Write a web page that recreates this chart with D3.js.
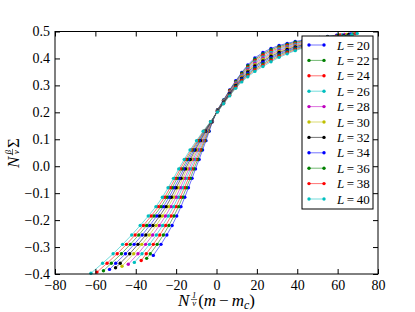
<!DOCTYPE html>
<html>
<head>
<meta charset="utf-8">
<script src="https://cdn.jsdelivr.net/npm/d3@7"></script>
<style>
  body { margin: 0; background: #fff; }
  svg { display: block; }
  text { white-space: pre; }
</style>
</head>
<body>
<div id="chart-container"></div>
<script>
const sizes = ["20", "22", "24", "26", "28", "30", "32", "34", "36", "38", "40"];
const colors = ["#0000ff", "#008000", "#ff0000", "#00bfbf", "#bf00bf", "#bfbf00",
                "#000000", "#0000ff", "#008000", "#ff0000", "#00bfbf"];
const xTicks = [-80, -60, -40, -20, 0, 20, 40, 60, 80];
const yTicks = [-0.4, -0.3, -0.2, -0.1, 0.0, 0.1, 0.2, 0.3, 0.4, 0.5];

const L20 = [[-31.3,-0.331],[-27.5,-0.290],[-24.6,-0.255],[-22.0,-0.220],[-19.7,-0.185],[-17.6,-0.150],[-15.7,-0.115],[-13.9,-0.080],[-12.1,-0.045],[-10.4,-0.010],[-8.6,0.025],[-6.9,0.060],[-5.2,0.095],[-3.6,0.130],[-2.0,0.165],
  [0.5,0.210],[3.5,0.246],[6.5,0.283],[9.5,0.317],[12.5,0.348],[15.5,0.376],[19,0.402],[23,0.422],[27,0.437],[31,0.448],[35,0.456],[39,0.463],[43,0.468],[47,0.473],[51,0.478],[55,0.482],[59.5,0.486]];
const L22 = [[-34.6,-0.342],[-32.8,-0.325],[-29.4,-0.290],[-26.3,-0.255],[-23.6,-0.220],[-21.1,-0.185],[-18.8,-0.150],[-16.8,-0.115],[-14.9,-0.080],[-13.0,-0.045],[-11.2,-0.010],[-9.3,0.025],[-7.5,0.060],[-5.7,0.095],[-3.9,0.130],[-2.1,0.165],
  [0.5,0.209],[3.5,0.245],[6.5,0.281],[9.5,0.314],[12.5,0.345],[15.5,0.372],[19,0.397],[23,0.417],[27,0.432],[31,0.444],[35,0.452],[39,0.460],[43,0.465],[47,0.471],[51,0.476],[55,0.481],[60.5,0.487]];
const L24 = [[-37.3,-0.350],[-34.8,-0.325],[-31.3,-0.290],[-28.1,-0.255],[-25.2,-0.220],[-22.5,-0.185],[-20.1,-0.150],[-17.9,-0.115],[-15.9,-0.080],[-13.9,-0.045],[-12.1,-0.010],[-10.1,0.025],[-8.1,0.060],[-6.1,0.095],[-4.2,0.130],[-2.2,0.165],
  [0.5,0.208],[3.5,0.243],[6.5,0.279],[9.5,0.311],[12.5,0.341],[15.5,0.367],[19,0.392],[23,0.412],[27,0.427],[31,0.439],[35,0.448],[39,0.456],[43,0.462],[47,0.468],[51,0.474],[55,0.479],[59,0.483],[61.5,0.487]];
const L26 = [[-40.7,-0.357],[-36.9,-0.325],[-33.2,-0.290],[-29.8,-0.255],[-26.7,-0.220],[-23.9,-0.185],[-21.3,-0.150],[-19.0,-0.115],[-16.9,-0.080],[-14.9,-0.045],[-12.9,-0.010],[-10.8,0.025],[-8.8,0.060],[-6.6,0.095],[-4.5,0.130],[-2.3,0.165],
  [0.5,0.207],[3.5,0.242],[6.5,0.276],[9.5,0.309],[12.5,0.338],[15.5,0.363],[19,0.387],[23,0.406],[27,0.422],[31,0.435],[35,0.444],[39,0.453],[43,0.459],[47,0.466],[51,0.472],[55,0.478],[59,0.482],[62.5,0.488]];
const L28 = [[-43.7,-0.364],[-38.9,-0.325],[-35.1,-0.290],[-31.6,-0.255],[-28.3,-0.220],[-25.3,-0.185],[-22.6,-0.150],[-20.1,-0.115],[-17.9,-0.080],[-15.8,-0.045],[-13.7,-0.010],[-11.6,0.025],[-9.4,0.060],[-7.1,0.095],[-4.8,0.130],[-2.4,0.165],
  [0.5,0.206],[3.5,0.240],[6.5,0.274],[9.5,0.306],[12.5,0.334],[15.5,0.358],[19,0.382],[23,0.401],[27,0.417],[31,0.430],[35,0.440],[39,0.449],[43,0.456],[47,0.463],[51,0.470],[55,0.476],[59,0.481],[63.5,0.489]];
const L30 = [[-46.8,-0.371],[-41.0,-0.325],[-37.0,-0.290],[-33.3,-0.255],[-29.9,-0.220],[-26.8,-0.185],[-23.8,-0.150],[-21.3,-0.115],[-19.0,-0.080],[-16.7,-0.045],[-14.6,-0.010],[-12.3,0.025],[-10.0,0.060],[-7.6,0.095],[-5.1,0.130],[-2.5,0.165],
  [0.5,0.206],[3.5,0.239],[6.5,0.272],[9.5,0.303],[12.5,0.331],[15.5,0.354],[19,0.377],[23,0.396],[27,0.413],[31,0.426],[35,0.437],[39,0.446],[43,0.454],[47,0.461],[51,0.468],[55,0.475],[59,0.480],[64.6,0.489]];
const L32 = [[-50.0,-0.377],[-47.7,-0.360],[-43.0,-0.325],[-38.9,-0.290],[-35.0,-0.255],[-31.5,-0.220],[-28.2,-0.185],[-25.0,-0.150],[-22.4,-0.115],[-20.0,-0.080],[-17.6,-0.045],[-15.4,-0.010],[-13.0,0.025],[-10.6,0.060],[-8.0,0.095],[-5.4,0.130],[-2.6,0.165],
  [0.5,0.205],[3.5,0.238],[6.5,0.270],[9.5,0.300],[12.5,0.327],[15.5,0.350],[19,0.372],[23,0.391],[27,0.408],[31,0.422],[35,0.433],[39,0.443],[43,0.451],[47,0.459],[51,0.466],[55,0.473],[59,0.478],[63,0.484],[65.6,0.490]];
const L34 = [[-53.0,-0.383],[-49.9,-0.360],[-45.1,-0.325],[-40.8,-0.290],[-36.8,-0.255],[-33.1,-0.220],[-29.6,-0.185],[-26.3,-0.150],[-23.5,-0.115],[-21.0,-0.080],[-18.5,-0.045],[-16.2,-0.010],[-13.8,0.025],[-11.2,0.060],[-8.5,0.095],[-5.7,0.130],[-2.7,0.165],
  [0.5,0.204],[3.5,0.236],[6.5,0.268],[9.5,0.297],[12.5,0.324],[15.5,0.345],[19,0.367],[23,0.386],[27,0.403],[31,0.417],[35,0.429],[39,0.439],[43,0.448],[47,0.456],[51,0.464],[55,0.471],[59,0.477],[63,0.483],[66.6,0.491]];
const L36 = [[-56.0,-0.388],[-52.1,-0.360],[-47.1,-0.325],[-42.7,-0.290],[-38.5,-0.255],[-34.6,-0.220],[-31.0,-0.185],[-27.5,-0.150],[-24.6,-0.115],[-22.0,-0.080],[-19.5,-0.045],[-17.0,-0.010],[-14.5,0.025],[-11.9,0.060],[-9.0,0.095],[-6.0,0.130],[-2.8,0.165],
  [0.5,0.203],[3.5,0.235],[6.5,0.265],[9.5,0.295],[12.5,0.320],[15.5,0.341],[19,0.362],[23,0.380],[27,0.398],[31,0.413],[35,0.425],[39,0.436],[43,0.445],[47,0.454],[51,0.462],[55,0.470],[59,0.476],[63,0.482],[67.6,0.491]];
const L38 = [[-59.2,-0.393],[-54.2,-0.360],[-49.2,-0.325],[-44.6,-0.290],[-40.3,-0.255],[-36.2,-0.220],[-32.4,-0.185],[-28.8,-0.150],[-25.7,-0.115],[-23.0,-0.080],[-20.4,-0.045],[-17.9,-0.010],[-15.3,0.025],[-12.5,0.060],[-9.4,0.095],[-6.3,0.130],[-2.9,0.165],
  [0.5,0.202],[3.5,0.233],[6.5,0.263],[9.5,0.292],[12.5,0.317],[15.5,0.336],[19,0.357],[23,0.375],[27,0.393],[31,0.408],[35,0.421],[39,0.432],[43,0.442],[47,0.451],[51,0.460],[55,0.468],[59,0.474],[63,0.481],[68.7,0.492]];
const L40 = [[-62.2,-0.397],[-56.4,-0.360],[-51.2,-0.325],[-46.5,-0.290],[-42.0,-0.255],[-37.8,-0.220],[-33.8,-0.185],[-30.0,-0.150],[-26.8,-0.115],[-24.0,-0.080],[-21.3,-0.045],[-18.7,-0.010],[-16.0,0.025],[-13.1,0.060],[-9.9,0.095],[-6.6,0.130],[-3.0,0.165],
  [0.5,0.201],[3.5,0.232],[6.5,0.261],[9.5,0.289],[12.5,0.313],[15.5,0.332],[19,0.352],[23,0.370],[27,0.388],[31,0.404],[35,0.417],[39,0.429],[43,0.439],[47,0.449],[51,0.458],[55,0.467],[59,0.473],[63,0.481],[67,0.488],[69.7,0.493]];

const allSeries = [L20, L22, L24, L26, L28, L30, L32, L34, L36, L38, L40];

const width = 415;
const height = 312;
const margin = { top: 31.5, right: 37, bottom: 38, left: 55 };
const serif = "Liberation Serif, DejaVu Serif, serif";

function drawChart() {
  const svg = d3.select("#chart-container")
    .append("svg")
    .attr("width", width)
    .attr("height", height)
    .attr("font-family", serif);

  const x = d3.scaleLinear().domain([-80, 80]).range([margin.left, width - margin.right]);
  const y = d3.scaleLinear().domain([-0.4, 0.5]).range([height - margin.bottom, margin.top]);

  const line = d3.line().x(d => x(d[0])).y(d => y(d[1]));

  // curves, later sizes on top
  allSeries.forEach((s, i) => {
    const g = svg.append("g");
    g.append("path")
      .attr("d", line(s))
      .attr("fill", "none")
      .attr("stroke", colors[i])
      .attr("stroke-opacity", 0.55)
      .attr("stroke-width", 1);
    g.selectAll("circle").data(s).enter()
      .append("circle")
      .attr("cx", d => x(d[0]))
      .attr("cy", d => y(d[1]))
      .attr("r", 1.7)
      .attr("fill", colors[i]);
  });

  // axes, ticks pointing inward on all sides
  const bottom = svg.append("g")
    .attr("transform", `translate(0,${height - margin.bottom})`)
    .call(d3.axisBottom(x).tickValues(xTicks).tickFormat(d3.format("d"))
      .tickSizeInner(-5).tickSizeOuter(0).tickPadding(6));
  const top = svg.append("g")
    .attr("transform", `translate(0,${margin.top})`)
    .call(d3.axisTop(x).tickValues(xTicks).tickFormat("")
      .tickSizeInner(-5).tickSizeOuter(0));
  const left = svg.append("g")
    .attr("transform", `translate(${margin.left},0)`)
    .call(d3.axisLeft(y).tickValues(yTicks).tickFormat(d3.format(".1f"))
      .tickSizeInner(-5).tickSizeOuter(0).tickPadding(5));
  const right = svg.append("g")
    .attr("transform", `translate(${width - margin.right},0)`)
    .call(d3.axisRight(y).tickValues(yTicks).tickFormat("")
      .tickSizeInner(-5).tickSizeOuter(0));

  [bottom, top, left, right].forEach(a => {
    a.attr("font-family", serif).attr("font-size", 14);
    a.select(".domain").remove();
    a.selectAll("line").attr("stroke", "#000");
    a.selectAll("text").attr("fill", "#000");
  });

  svg.append("rect")
    .attr("x", margin.left)
    .attr("y", margin.top)
    .attr("width", width - margin.left - margin.right)
    .attr("height", height - margin.top - margin.bottom)
    .attr("fill", "none")
    .attr("stroke", "#000")
    .attr("stroke-width", 1);

  // legend
  const lx = 302, ly = 36, lw = 71, lh = 173;
  const legend = svg.append("g");
  legend.append("rect")
    .attr("x", lx).attr("y", ly).attr("width", lw).attr("height", lh)
    .attr("fill", "#fff").attr("stroke", "#000").attr("stroke-width", 1);
  sizes.forEach((s, i) => {
    const cy = ly + 9 + i * 15.4;
    legend.append("line")
      .attr("x1", lx + 7).attr("x2", lx + 22).attr("y1", cy).attr("y2", cy)
      .attr("stroke", colors[i]).attr("stroke-opacity", 0.55);
    [lx + 7, lx + 22].forEach(px => {
      legend.append("circle").attr("cx", px).attr("cy", cy).attr("r", 1.7).attr("fill", colors[i]);
    });
    const t = legend.append("text")
      .attr("x", lx + 35).attr("y", cy + 4.5)
      .attr("font-size", 13);
    t.append("tspan").attr("font-style", "italic").text("L");
    t.append("tspan").text("\u2009=\u2009" + s);
  });

  // math labels built from pieces
  function mathLabel(parts, size) {
    const g = svg.append("g");
    let cx = 0;
    parts.forEach(p => {
      if (p.frac) {
        const fs = size * 0.5;
        const a = g.append("text").attr("y", -size * 0.5).attr("font-size", fs)
          .attr("font-style", "italic").attr("text-anchor", "middle").text(p.frac[0]);
        const b = g.append("text").attr("y", 0).attr("font-size", fs)
          .attr("font-style", "italic").attr("text-anchor", "middle").text(p.frac[1]);
        const w = Math.max(a.node().getComputedTextLength(), b.node().getComputedTextLength()) + 2;
        a.attr("x", cx + w / 2 + 1);
        b.attr("x", cx + w / 2 + 1);
        g.append("line").attr("x1", cx + 1).attr("x2", cx + w + 1)
          .attr("y1", -size * 0.38).attr("y2", -size * 0.38)
          .attr("stroke", "#000").attr("stroke-width", 0.6);
        cx += w + 2;
      } else {
        const fs = p.sub ? size * 0.7 : size;
        const t = g.append("text").attr("x", cx).attr("y", p.sub ? size * 0.15 : 0)
          .attr("font-size", fs)
          .attr("font-style", p.it ? "italic" : "normal")
          .text(p.t);
        cx += t.node().getComputedTextLength() + (p.pad || 0);
      }
    });
    return { g, w: cx };
  }

  const xl = mathLabel([
    { t: "N", it: true, pad: 0.5 }, { frac: ["1", "ν"] }, { t: "(" }, { t: "m", it: true, pad: 3 },
    { t: "−", pad: 3 }, { t: "m", it: true }, { t: "c", it: true, sub: true }, { t: ")" }
  ], 17);
  xl.g.attr("transform", `translate(${216.5 - xl.w / 2},${306})`);

  const yl = mathLabel([
    { t: "N", it: true, pad: 0.5 }, { frac: ["β", "ν"] }, { t: "Σ" }
  ], 17);
  yl.g.attr("transform", `translate(${19},${153 + yl.w / 2}) rotate(-90)`);
}

drawChart();
</script>
</body>
</html>
